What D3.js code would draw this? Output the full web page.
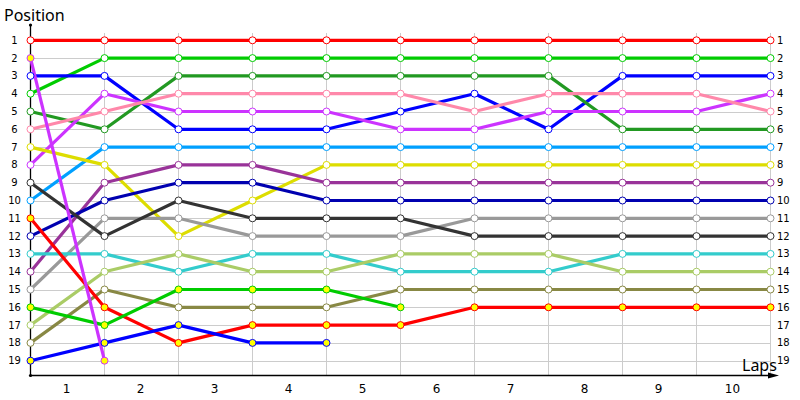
<!DOCTYPE html>
<html>
<head>
<meta charset="utf-8">
<script src="https://cdn.jsdelivr.net/npm/d3@7"></script>
<style>
  body { margin: 0; background: #fff; }
  text { font-family: "DejaVu Sans", Verdana, sans-serif; }
</style>
</head>
<body>
<svg id="chart"></svg>
<script>
// lap chart data: position of each car at grid (index 0) and after laps 1..10
let lapLabels = ["1", "2", "3", "4", "5", "6", "7", "8", "9", "10"];
let positions = d3.range(1, 20);

let red1 = [1, 1, 1, 1, 1, 1, 1, 1, 1, 1, 1];
let green1 = [4, 2, 2, 2, 2, 2, 2, 2, 2, 2, 2];
let blue1 = [3, 3, 6, 6, 6, 5, 4, 6, 3, 3, 3];
let darkGreen = [5, 6, 3, 3, 3, 3, 3, 3, 6, 6, 6];
let magenta1 = [8, 4, 5, 5, 5, 6, 6, 5, 5, 5, 4];
let pink = [6, 5, 4, 4, 4, 4, 5, 4, 4, 4, 5];
let lightBlue = [10, 7, 7, 7, 7, 7, 7, 7, 7, 7, 7];
let yellow = [7, 8, 12, 10, 8, 8, 8, 8, 8, 8, 8];
let purple = [14, 9, 8, 8, 9, 9, 9, 9, 9, 9, 9];
let navy = [12, 10, 9, 9, 10, 10, 10, 10, 10, 10, 10];
let gray = [15, 11, 11, 12, 12, 12, 11, 11, 11, 11, 11];
let darkGray = [9, 12, 10, 11, 11, 11, 12, 12, 12, 12, 12];
let cyan = [13, 13, 14, 13, 13, 14, 14, 14, 13, 13, 13];
let lightGreen = [17, 14, 13, 14, 14, 13, 13, 13, 14, 14, 14];
let olive = [18, 15, 16, 16, 16, 15, 15, 15, 15, 15, 15];
let red2 = [11, 16, 18, 17, 17, 17, 16, 16, 16, 16, 16];
let green2 = [16, 17, 15, 15, 15, 16];
let blue2 = [19, 18, 17, 18, 18];
let magenta2 = [2, 19];

let seriesData = [red1, green1, blue1, darkGreen, magenta1, pink, lightBlue, yellow,
  purple, navy, gray, darkGray, cyan, lightGreen, olive, red2, green2, blue2, magenta2];
let seriesColors = ["#ff0000", "#00cc00", "#0000ff", "#229922", "#cc33ff", "#ff88aa",
  "#00a0ff", "#dddd00", "#993399", "#0000b0", "#999999", "#333333", "#33cccc",
  "#aacc66", "#888844", "#ff0000", "#00cc00", "#0000ff", "#cc33ff"];
// yellow filled markers for the lapped / retired cars
let seriesYellow = [false, false, false, false, false, false, false, false, false,
  false, false, false, false, false, false, true, true, true, true];

let width = 800,
  height = 400;

let svg = d3.select("#chart").attr("width", width).attr("height", height);

let x = d3.scaleLinear().domain([0, 10]).range([30.5, 770.5]);
let y = d3.scaleLinear().domain([1, 19]).range([40.3, 360.7]);
let axisY = 375.5;

// grid
svg.append("g")
  .selectAll("line")
  .data(positions)
  .enter()
  .append("line")
  .attr("x1", x(0))
  .attr("x2", x(10))
  .attr("y1", (d) => Math.round(y(d)) + 0.5)
  .attr("y2", (d) => Math.round(y(d)) + 0.5)
  .attr("stroke", "#cccccc")
  .attr("stroke-width", 1);

svg.append("g")
  .selectAll("line")
  .data(d3.range(1, 11))
  .enter()
  .append("line")
  .attr("x1", (d) => x(d))
  .attr("x2", (d) => x(d))
  .attr("y1", 33)
  .attr("y2", axisY)
  .attr("stroke", "#cccccc")
  .attr("stroke-width", 1);

// axes lines
svg.append("line")
  .attr("x1", x(0)).attr("x2", x(0))
  .attr("y1", 25).attr("y2", axisY)
  .attr("stroke", "#000").attr("stroke-width", 1.3);
svg.append("circle").attr("cx", x(0)).attr("cy", 25).attr("r", 1.6).attr("fill", "#000");
svg.append("circle").attr("cx", x(0)).attr("cy", axisY).attr("r", 1.6).attr("fill", "#000");
svg.append("line")
  .attr("x1", x(0)).attr("x2", 772)
  .attr("y1", axisY).attr("y2", axisY)
  .attr("stroke", "#000").attr("stroke-width", 1.3);
svg.append("path")
  .attr("d", "M768," + (axisY - 3) + " L779," + axisY + " L768," + (axisY + 3) + " Z")
  .attr("fill", "#000");

// left and right position labels
svg.append("g")
  .selectAll("text")
  .data(positions)
  .enter()
  .append("text")
  .attr("x", 14.5)
  .attr("y", (d) => y(d) + 3.5)
  .attr("text-anchor", "middle")
  .attr("font-size", "10px")
  .text((d) => d);

svg.append("g")
  .selectAll("text")
  .data(positions)
  .enter()
  .append("text")
  .attr("x", 777)
  .attr("y", (d) => y(d) + 3.5)
  .attr("font-size", "10px")
  .text((d) => d);

// lap labels centred between the lap lines
svg.append("g")
  .selectAll("text")
  .data(lapLabels)
  .enter()
  .append("text")
  .attr("x", (d, i) => (x(i) + x(i + 1)) / 2 - 1)
  .attr("y", 393)
  .attr("text-anchor", "middle")
  .attr("font-size", "12px")
  .text((d) => d);

svg.append("text")
  .attr("x", 4)
  .attr("y", 21)
  .attr("font-size", "16px")
  .style("font-family", "'Noto Sans', sans-serif")
  .text("Position");

svg.append("text")
  .attr("x", 742)
  .attr("y", 371)
  .attr("font-size", "16px")
  .style("font-family", "'Noto Sans', sans-serif")
  .text("Laps");

// lines
let line = d3.line()
  .x((d, i) => x(i))
  .y((d) => y(d));

svg.append("g")
  .selectAll("path")
  .data(seriesData)
  .enter()
  .append("path")
  .attr("fill", "none")
  .attr("stroke", (d, i) => seriesColors[i])
  .attr("stroke-width", 3.2)
  .attr("stroke-linejoin", "round")
  .attr("d", line);

// markers
seriesData.forEach((s, k) => {
  svg.append("g")
    .selectAll("circle")
    .data(s)
    .enter()
    .append("circle")
    .attr("cx", (d, i) => x(i))
    .attr("cy", (d) => y(d))
    .attr("r", 3.5)
    .attr("fill", seriesYellow[k] ? "#ffff00" : "#ffffff")
    .attr("stroke", seriesColors[k])
    .attr("stroke-width", 1);
});
</script>
</body>
</html>
